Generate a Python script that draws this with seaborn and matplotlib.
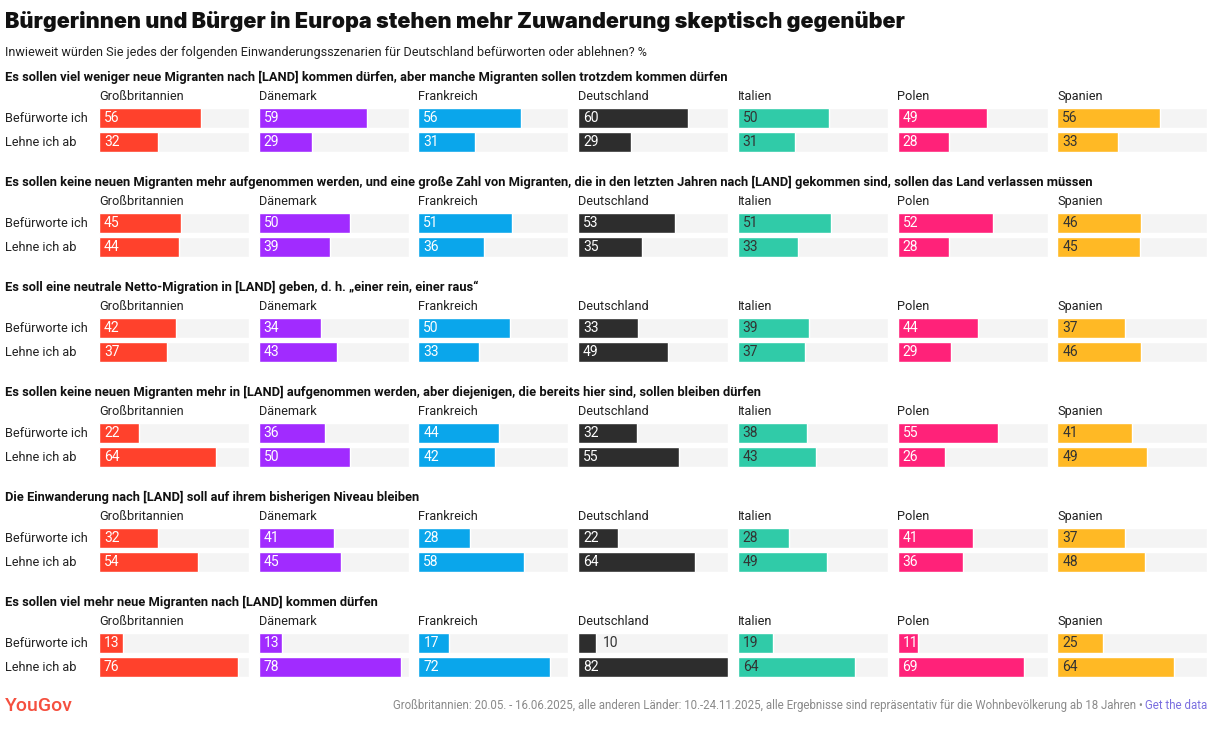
import matplotlib.pyplot as plt
import seaborn as sns
import pandas as pd

W, H = 1221, 731

countries = ['Großbritannien', 'Dänemark', 'Frankreich', 'Deutschland', 'Italien', 'Polen', 'Spanien']
colors = ['#FF412C', '#A12BFF', '#0AA6EB', '#2D2D2D', '#30CBA8', '#FF2279', '#FFB925']
label_colors = ['white', 'white', 'white', 'white', '#333333', 'white', '#333333']
answers = ['Befürworte ich', 'Lehne ich ab']

scenarios = [
    'Es sollen viel weniger neue Migranten nach [LAND] kommen dürfen, aber manche Migranten sollen trotzdem kommen dürfen',
    'Es sollen keine neuen Migranten mehr aufgenommen werden, und eine große Zahl von Migranten, die in den letzten Jahren nach [LAND] gekommen sind, sollen das Land verlassen müssen',
    'Es soll eine neutrale Netto-Migration in [LAND] geben, d. h. „einer rein, einer raus“',
    'Es sollen keine neuen Migranten mehr in [LAND] aufgenommen werden, aber diejenigen, die bereits hier sind, sollen bleiben dürfen',
    'Die Einwanderung nach [LAND] soll auf ihrem bisherigen Niveau bleiben',
    'Es sollen viel mehr neue Migranten nach [LAND] kommen dürfen',
]

befuerworte = [
    [56, 59, 56, 60, 50, 49, 56],
    [45, 50, 51, 53, 51, 52, 46],
    [42, 34, 50, 33, 39, 44, 37],
    [22, 36, 44, 32, 38, 55, 41],
    [32, 41, 28, 22, 28, 41, 37],
    [13, 13, 17, 10, 19, 11, 25],
]
lehne_ab = [
    [32, 29, 31, 29, 31, 28, 33],
    [44, 39, 36, 35, 33, 28, 45],
    [37, 43, 33, 49, 37, 29, 46],
    [64, 50, 42, 55, 43, 26, 49],
    [54, 45, 58, 64, 49, 36, 48],
    [76, 78, 72, 82, 64, 69, 64],
]

xmax = max(max(max(r) for r in befuerworte), max(max(r) for r in lehne_ab))

sns.set_theme(style='white')
plt.rcParams['font.family'] = ['Roboto', 'DejaVu Sans']

fig = plt.figure(figsize=(W / 100, H / 100), dpi=100)


def px_axes(x, y, w, h):
    return fig.add_axes([x / W, 1 - (y + h) / H, w / W, h / H])


def px_text(x, y, s, **kw):
    return fig.text(x / W, 1 - y / H, s, **kw)


px_text(5, 28, 'Bürgerinnen und Bürger in Europa stehen mehr Zuwanderung skeptisch gegenüber',
        fontsize=15.5, fontweight='black', family=['Inter', 'DejaVu Sans'], color='#111111', va='baseline')
px_text(5, 56, 'Inwieweit würden Sie jedes der folgenden Einwanderungsszenarien für Deutschland befürworten oder ablehnen? %',
        fontsize=9.1, color='#222222', va='baseline')

panel_w = 150
step = 159.7
for s, title in enumerate(scenarios):
    y0 = 105 * s
    px_text(5, 81 + y0, title, fontsize=9.3, fontweight='bold', color='#111111', va='baseline')
    px_text(5, 122 + y0, answers[0], fontsize=9.2, color='#222222', va='baseline')
    px_text(5, 146 + y0, answers[1], fontsize=9.2, color='#222222', va='baseline')
    for c, country in enumerate(countries):
        x0 = 99 + step * c
        px_text(x0, 100 + y0, country, fontsize=9.2, color='#222222', va='baseline')
        ax = px_axes(x0, 106 + y0, panel_w, 48)
        df = pd.DataFrame({'Antwort': answers,
                           'Wert': [befuerworte[s][c], lehne_ab[s][c]],
                           'Max': [xmax, xmax]})
        sns.barplot(data=df, x='Max', y='Antwort', color='#F4F4F4', saturation=1,
                    width=0.83, ax=ax)
        sns.barplot(data=df, x='Wert', y='Antwort', color=colors[c], saturation=1,
                    width=0.83, ax=ax)
        ax.set_xlim(0, xmax)
        ax.set_ylim(1.5, -0.5)
        ax.axis('off')
        for i, v in enumerate(df['Wert']):
            if v <= 10:
                ax.annotate(str(v), xy=(v, i), xytext=(6, 0), textcoords='offset pixels',
                            va='center', fontsize=10, color='#333333')
            else:
                ax.annotate(str(v), xy=(0, i), xytext=(5, 0), textcoords='offset pixels',
                            va='center', fontsize=10, color=label_colors[c])

px_text(5, 711, 'YouGov', fontsize=14, fontweight='medium', color='#F5503F', va='baseline')

link = px_text(1207, 709, 'Get the data', fontsize=8.3, color='#7B6FE0', va='baseline', ha='right')
fig.canvas.draw()
bb = link.get_window_extent()
fig.text((bb.x0 - 2) / W, 1 - 709 / H,
         'Großbritannien: 20.05. - 16.06.2025, alle anderen Länder: 10.-24.11.2025, alle Ergebnisse sind repräsentativ für die Wohnbevölkerung ab 18 Jahren •',
         fontsize=8.3, color='#8A8A8A', va='baseline', ha='right')

fig.savefig('out.png', dpi=100, facecolor='white')
